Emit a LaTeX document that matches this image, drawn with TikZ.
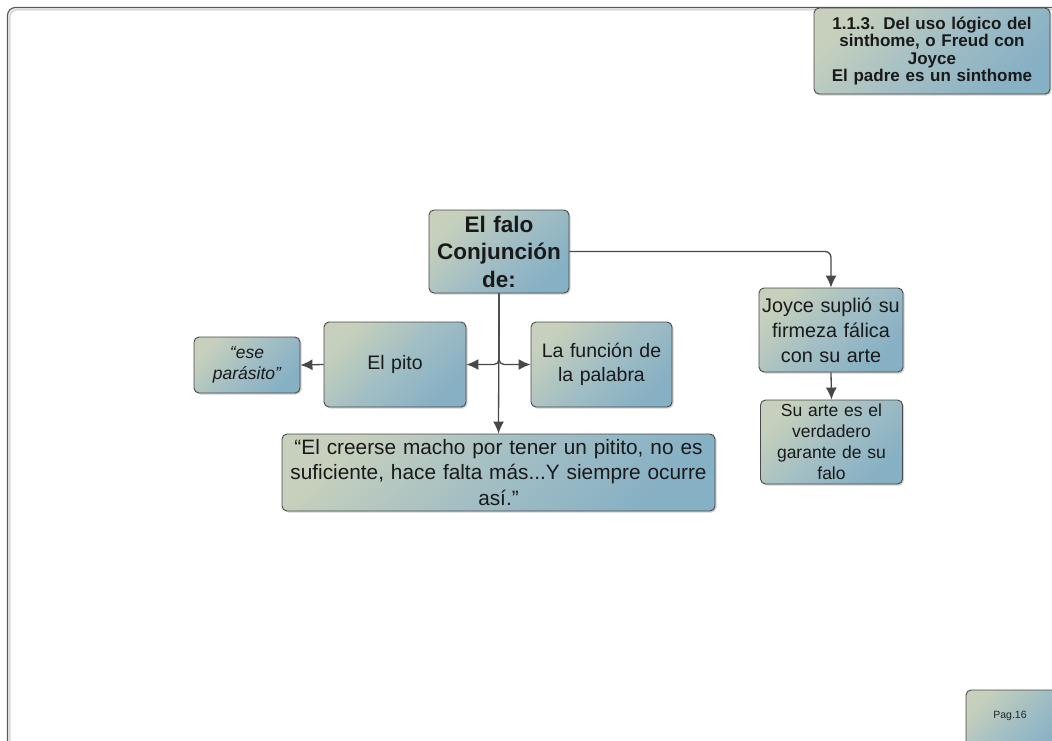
\documentclass[tikz,border=0pt]{standalone}
\usepackage{fontspec}
\setmainfont{Liberation Sans}
\usetikzlibrary{arrows.meta,shadows}
\definecolor{boxlight}{RGB}{198,208,188}
\definecolor{boxmid}{RGB}{162,190,196}
\definecolor{boxdark}{RGB}{134,176,196}
\definecolor{edge}{RGB}{72,72,72}
\definecolor{frameline}{RGB}{90,90,90}
\tikzset{
  card/.style={draw=edge, line width=0.9pt, rounded corners=5pt,
    top color=boxlight, bottom color=boxdark, middle color=boxmid, shading angle=45,
    drop shadow={shadow xshift=1.5pt, shadow yshift=-1.5pt, opacity=0.3, fill=black!60},
    align=center, inner sep=1pt, text=black!90},
  link/.style={draw=edge, line width=1.3pt, -{Latex[length=12pt,width=11pt]}},
  fs/.style 2 args={font=\fontsize{#1}{#2}\selectfont},
}
\begin{document}
\begin{tikzpicture}[x=1pt,y=-1pt]
\useasboundingbox (0,0) rectangle (1052,740);
\begin{scope}
\clip (0,0) rectangle (1052,740);
% page frame
\draw[black!15, line width=2pt, rounded corners=8pt] (9.5,760) -- (9.5,9.5) -- (1070,9.5);
\draw[frameline, line width=1.2pt, rounded corners=8pt] (7.5,760) -- (7.5,7.5) -- (1070,7.5);

% boxes
\node[card, minimum width=236pt, minimum height=86pt, text width=234pt, font=\bfseries\fontsize{17}{17.5}\selectfont] (title) at (932,51)
  {1.1.3. Del uso lógico del\\sinthome, o Freud con\\Joyce\\El padre es un sinthome};
\node[card, minimum width=140pt, minimum height=83pt, text width=138pt, font=\bfseries\fontsize{22.5}{27.5}\selectfont] (falo) at (499,251.5)
  {El falo\\Conjunción\\de:};
\node[card, minimum width=142pt, minimum height=85pt, text width=140pt, fs={19.5}{24}] (pito) at (395,364.5) {El pito};
\node[card, minimum width=141pt, minimum height=85pt, text width=139pt, fs={19.5}{24}] (funcion) at (601.5,364.5)
  {La función de\\la palabra};
\node[card, minimum width=106pt, minimum height=56pt, text width=104pt, font=\itshape\fontsize{17.5}{21}\selectfont] (ese) at (247,365)
  {“ese\\parásito”};
\node[card, minimum width=433pt, minimum height=77pt, text width=430pt, fs={20.8}{25.5}] (quote) at (498.5,472.5)
  {“El creerse macho por tener un pitito, no es\\suficiente, hace falta más...Y siempre ocurre\\así.”};
\node[card, minimum width=142pt, minimum height=84pt, text width=142pt, fs={19.8}{25}] (joyce) at (831,330)
  {Joyce suplió su\\firmeza fálica\\con su arte};
\node[card, minimum width=141pt, minimum height=84pt, text width=140pt, fs={17.5}{21}] (suarte) at (831.5,442)
  {Su arte es el\\verdadero\\garante de su\\falo};
\node[card, minimum width=100pt, minimum height=64pt] (pag) at (1016,722) {};
\node[fs={10.5}{12}, text=black!85] (pagtxt) at (1010,716) {Pag.16};

% connectors
\draw[link] (falo.south) -- (quote.north);
\draw[link, rounded corners=5pt] (falo.south) |- (pito.east);
\draw[link, rounded corners=5pt] (falo.south) |- (funcion.west);
\draw[link] (pito.west) -- (ese.east);
\draw[link, rounded corners=6pt] (falo.east) -| (joyce.north);
\draw[link] (joyce.south) -- (suarte.north);
\end{scope}
\end{tikzpicture}
\end{document}
